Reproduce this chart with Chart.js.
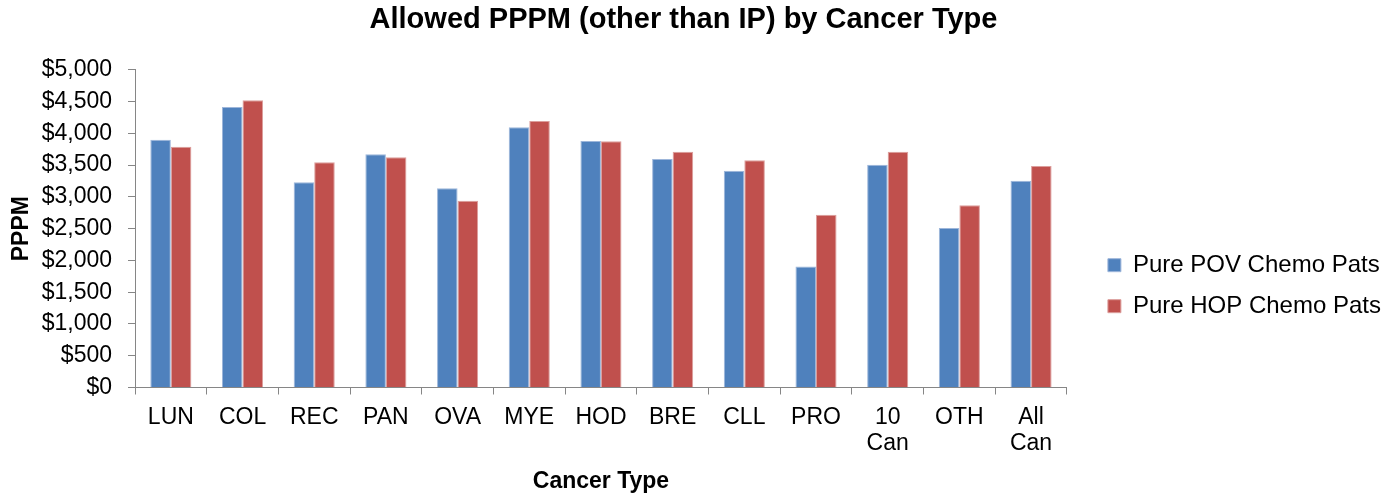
<!DOCTYPE html>
<html>
<head>
<meta charset="utf-8">
<script src="https://cdn.jsdelivr.net/npm/chart.js@4/dist/chart.umd.min.js"></script>
<style>
  body { margin: 0; background: #fff; }
  #wrap { width: 1381px; height: 495px; }
</style>
</head>
<body>
<div id="wrap"><canvas id="pppmChart"></canvas></div>
<script>
// categories and values
const cancerTypes = ['LUN', 'COL', 'REC', 'PAN', 'OVA', 'MYE', 'HOD', 'BRE', 'CLL', 'PRO', ['10', 'Can'], 'OTH', ['All', 'Can']];
const povValues = [3900, 4415, 3230, 3670, 3135, 4095, 3880, 3595, 3410, 1905, 3505, 2510, 3255];
const hopValues = [3790, 4520, 3545, 3625, 2940, 4195, 3875, 3710, 3575, 2720, 3710, 2870, 3485];
const seriesNames = ['Pure POV Chemo Pats', 'Pure HOP Chemo Pats'];

Chart.defaults.font.family = "'Liberation Sans', Arial, sans-serif";
Chart.defaults.color = '#000';

const axisGray = '#868686';

// push the legend a bit away from the plot, like the excel original
const legendGap = {
  id: 'legendGap',
  afterLayout(chart) {
    chart.legend.left += 24;
    chart.legend.right += 24;
  }
};

const ctx = document.getElementById('pppmChart').getContext('2d');
new Chart(ctx, {
  type: 'bar',
  data: {
    labels: cancerTypes,
    datasets: [
      {
        label: seriesNames[0],
        data: povValues,
        backgroundColor: '#4F81BD',
        borderColor: '#9DB6DA',
        borderWidth: 1,
        categoryPercentage: 0.573,
        barPercentage: 1.0
      },
      {
        label: seriesNames[1],
        data: hopValues,
        backgroundColor: '#C0504D',
        borderColor: '#DC9E9C',
        borderWidth: 1,
        categoryPercentage: 0.573,
        barPercentage: 1.0
      }
    ]
  },
  plugins: [legendGap],
  options: {
    responsive: true,
    maintainAspectRatio: false,
    animation: false,
    layout: { padding: { left: 0, right: 14, top: 0, bottom: 0 } },
    plugins: {
      title: {
        display: true,
        text: 'Allowed PPPM (other than IP) by Cancer Type',
        font: { size: 29, weight: 'bold' },
        padding: { top: 3, bottom: 32 }
      },
      legend: {
        position: 'right',
        title: { display: true, text: '', font: { size: 12 }, padding: { top: 31, bottom: 31 } },
        labels: {
          boxWidth: 13,
          boxHeight: 13,
          padding: 17,
          font: { size: 24 }
        }
      },
      tooltip: { enabled: false }
    },
    scales: {
      x: {
        grid: { drawOnChartArea: false, tickLength: 7, color: axisGray },
        border: { color: axisGray },
        ticks: { font: { size: 23, lineHeight: 1.15 }, padding: 9.5, maxRotation: 0, autoSkip: false },
        title: {
          display: true,
          text: 'Cancer Type',
          font: { size: 23, weight: 'bold' },
          padding: { top: 1, bottom: 0 }
        }
      },
      y: {
        min: 0,
        max: 5000,
        grid: { drawOnChartArea: false, tickLength: 7, color: axisGray },
        border: { color: axisGray },
        ticks: {
          stepSize: 500,
          padding: 16,
          font: { size: 23 },
          callback: v => '$' + v.toLocaleString('en-US')
        },
        title: {
          display: true,
          text: 'PPPM',
          font: { size: 23, weight: 'bold' },
          padding: { top: 8, bottom: 0 }
        },
        afterFit: s => { s.width = 135; }
      }
    }
  }
});
</script>
</body>
</html>
